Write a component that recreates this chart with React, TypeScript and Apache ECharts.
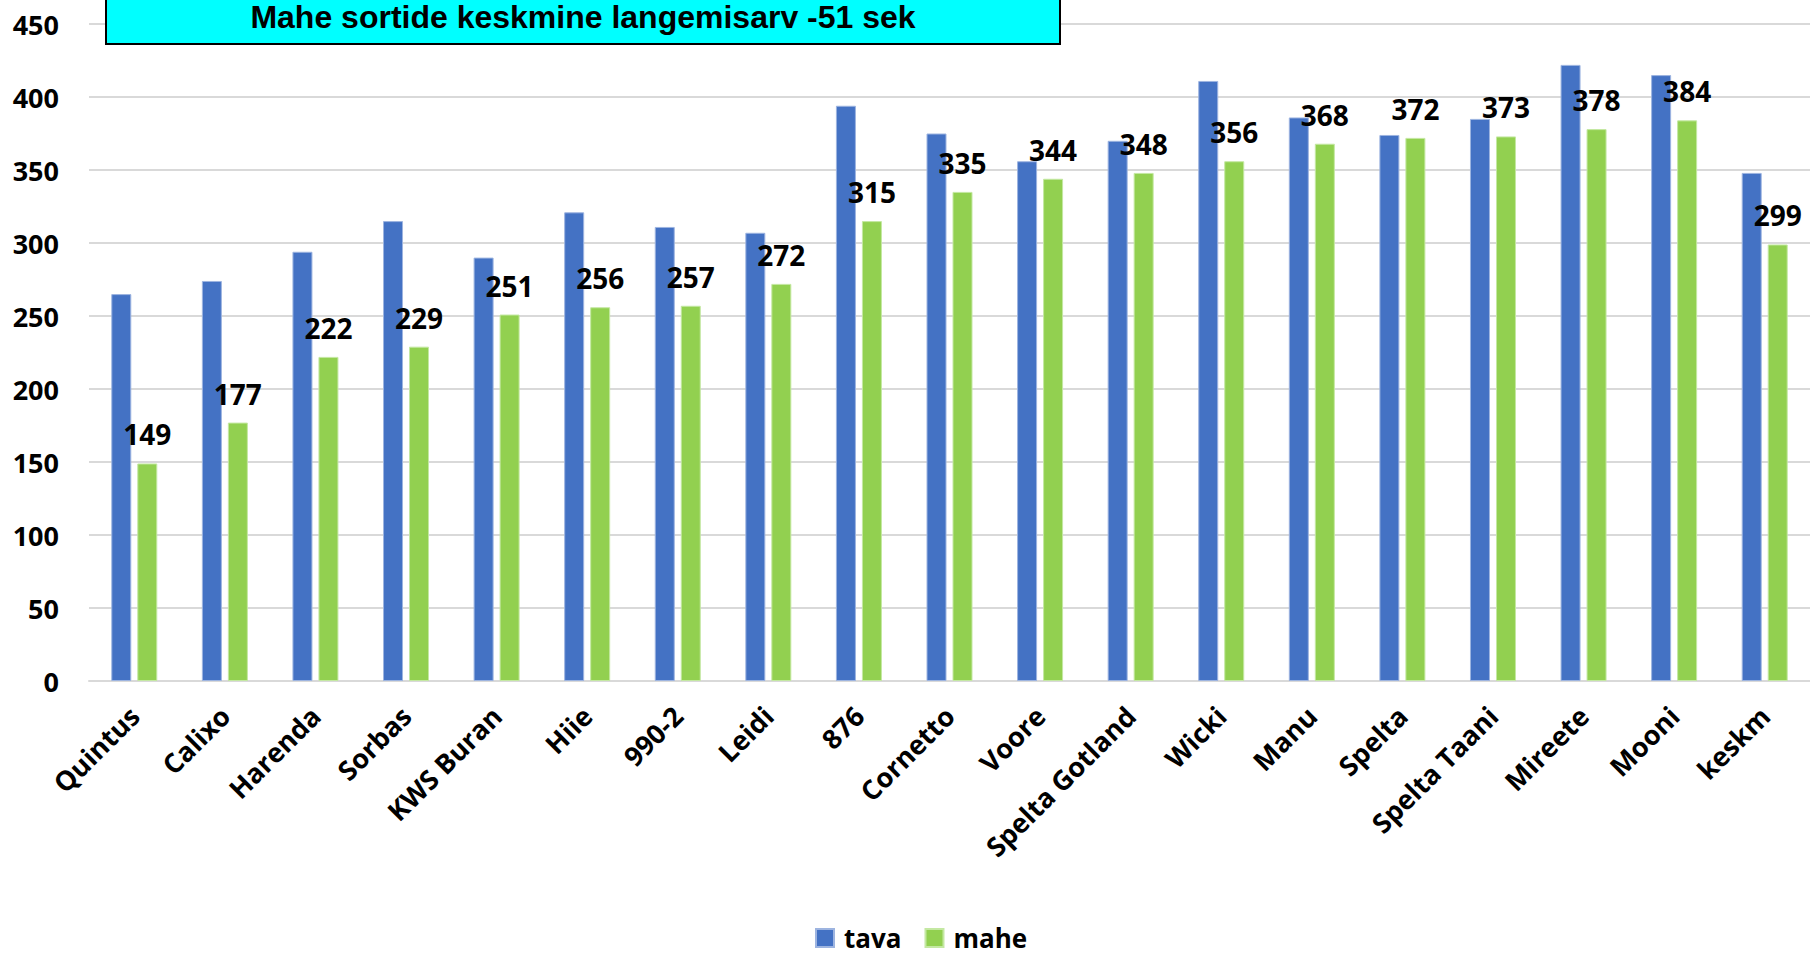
import React, { useEffect, useRef } from "react";
import * as echarts from "echarts";

const categories = [
  "Quintus", "Calixo", "Harenda", "Sorbas", "KWS Buran", "Hiie", "990-2", "Leidi", "876",
  "Cornetto", "Voore", "Spelta Gotland", "Wicki", "Manu", "Spelta", "Spelta Taani",
  "Mireete", "Mooni", "keskm",
];
const tava = [265, 274, 294, 315, 290, 321, 311, 307, 394, 375, 356, 370, 411, 386, 374, 385, 422, 415, 348];
const mahe = [149, 177, 222, 229, 251, 256, 257, 272, 315, 335, 344, 348, 356, 368, 372, 373, 378, 384, 299];
const seriesNames = ["tava", "mahe"];
const titleText = "Mahe sortide keskmine langemisarv -51 sek";
const yMin = 0;
const yMax = 450;
const yStep = 50;

const FONT = "'Open Sans', sans-serif";

export default function App() {
  const ref = useRef<HTMLDivElement>(null);
  useEffect(() => {
    document.body.style.margin = "0";
    if (!ref.current) return;
    const chart = echarts.init(ref.current, null, { renderer: "svg" });
    chart.setOption({
      animation: false,
      backgroundColor: "#ffffff",
      grid: { left: 89, right: -5, top: 24, bottom: 275, containLabel: false },
      legend: {
        data: seriesNames,
        left: 810,
        top: 920,
        icon: "rect",
        itemWidth: 18,
        itemHeight: 18,
        itemGap: 23,
        textStyle: {
          fontFamily: FONT,
          fontWeight: "bold",
          fontSize: 26,
          lineHeight: 26,
          color: "#000",
          padding: [0, 0, 0, 5],
        },
      },
      xAxis: {
        type: "category",
        data: categories,
        axisLine: { show: true, lineStyle: { color: "#d9d9d9", width: 2 } },
        axisTick: { show: false },
        axisLabel: {
          interval: 0,
          rotate: 45,
          margin: 30,
          fontFamily: FONT,
          fontWeight: "bold",
          fontSize: 27,
          color: "#000",
        },
      },
      yAxis: {
        type: "value",
        min: yMin,
        max: yMax,
        interval: yStep,
        axisLine: { show: false },
        axisTick: { show: false },
        splitLine: { lineStyle: { color: "#d9d9d9", width: 2 } },
        axisLabel: { margin: 30, fontFamily: FONT, fontWeight: "bold", fontSize: 27, color: "#000" },
      },
      series: [
        {
          name: seriesNames[0],
          type: "bar",
          data: tava,
          barWidth: 20,
          barGap: "30%",
          itemStyle: { color: "#4472C4", borderColor: "#9db4e0", borderWidth: 1 },
        },
        {
          name: seriesNames[1],
          type: "bar",
          data: mahe,
          barWidth: 20,
          barGap: "30%",
          itemStyle: { color: "#92D050", borderColor: "#c4e8a2", borderWidth: 1 },
          label: {
            show: true,
            position: "top",
            distance: 15,
            fontFamily: FONT,
            fontWeight: "bold",
            fontSize: 28,
            color: "#000",
          },
        },
      ],
      graphic: [
        {
          type: "rect",
          z: 100,
          shape: { x: 106, y: -10, width: 954, height: 54 },
          style: { fill: "#00FFFF", stroke: "#000000", lineWidth: 2 },
        },
        {
          type: "text",
          z: 101,
          x: 583,
          y: 17,
          style: {
            text: titleText,
            fill: "#000",
            font: "bold 32px 'Liberation Sans', Arial, sans-serif",
            textAlign: "center",
            textVerticalAlign: "middle",
          },
        },
      ],
    });
    return () => chart.dispose();
  }, []);
  return <div ref={ref} style={{ width: 1810, height: 956 }} />;
}
